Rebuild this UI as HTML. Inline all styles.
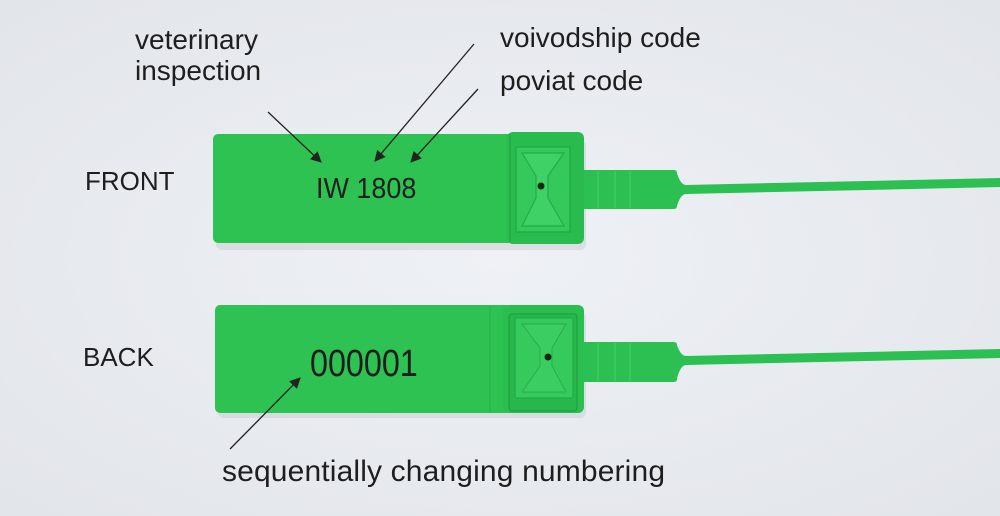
<!DOCTYPE html>
<html><head><meta charset="utf-8"><style>
html,body{margin:0;padding:0;background:#e9ecf0;}
svg{display:block}
text{font-family:"Liberation Sans",Arial,sans-serif;fill:#1e1e1e}
</style></head><body>
<svg width="1000" height="516" viewBox="0 0 1000 516" xmlns="http://www.w3.org/2000/svg">
<defs>
<radialGradient id="bg" cx="50%" cy="50%" r="70%"><stop offset="0" stop-color="#eef1f5"/><stop offset="1" stop-color="#e2e5ea"/></radialGradient>
<marker id="ah" viewBox="0 0 10 10" refX="9" refY="5" markerWidth="13" markerHeight="11" orient="auto" markerUnits="userSpaceOnUse"><path d="M0,0 L10,5 L0,10 z" fill="#222"/></marker>
</defs>
<rect width="1000" height="516" fill="url(#bg)"/>
<rect x="216" y="140" width="370" height="110" rx="6" fill="#c9ccd2" opacity="0.5"/>
<rect x="218" y="312" width="368" height="106" rx="6" fill="#c9ccd2" opacity="0.5"/>

<rect x="578" y="170" width="99" height="39" rx="3" fill="#2cbf51"/>
<g stroke="#44d068" stroke-width="1"><line x1="598" y1="171" x2="598" y2="208"/><line x1="615" y1="171" x2="615" y2="208"/><line x1="630" y1="171" x2="630" y2="208"/></g>
<path d="M676,170 Q680,185 686,185 L1000,178 L1000,187 L686,194 Q680,194 676,209 Z" fill="#2cbf51"/>
<rect x="213" y="134" width="300" height="109" rx="5" fill="#2ec252"/>
<rect x="507" y="132" width="77" height="112" rx="6" fill="#29bb4e"/>
<line x1="510" y1="134" x2="510" y2="242" stroke="#23a945" stroke-width="1.5"/>
<path d="M516,147 L570,147 L570,232 L516,232 Z" fill="#35c85a" stroke="#22ad46" stroke-width="1.5"/>
<path d="M522,153 L564,153 L548,176 L548,198 L564,226 L522,226 L536,198 L536,176 Z" fill="#3fd066" stroke="#22ad46" stroke-width="1.2"/>
<circle cx="541" cy="186" r="3.5" fill="#0d2a12"/>
<text x="316" y="198" font-size="29" transform="translate(316 198) scale(0.93 1) translate(-316 -198)">IW 1808</text>

<rect x="578" y="342" width="99" height="40" rx="3" fill="#2cbf51"/>
<g stroke="#44d068" stroke-width="1"><line x1="598" y1="343" x2="598" y2="381"/><line x1="615" y1="343" x2="615" y2="381"/><line x1="630" y1="343" x2="630" y2="381"/></g>
<path d="M676,342 Q680,356 686,356 L1000,349 L1000,358 L686,365 Q680,365 676,382 Z" fill="#2cbf51"/>
<rect x="215" y="305" width="296" height="108" rx="5" fill="#2ec252"/>
<line x1="490" y1="306" x2="490" y2="412" stroke="#29b64d" stroke-width="1.5"/>
<rect x="503" y="305" width="81" height="108" rx="6" fill="#2abe4f"/>
<rect x="509" y="314" width="68" height="97" rx="3" fill="#27b74c" stroke="#1f9f40" stroke-width="1.2"/>
<rect x="515" y="318" width="58" height="80" rx="2" fill="#36c95b" stroke="#22ad46" stroke-width="1.2"/>
<path d="M522,324 L566,324 L552,348 L552,366 L566,392 L522,392 L540,366 L540,348 Z" fill="#3ccd62" stroke="#25b049" stroke-width="1"/>
<circle cx="548" cy="357" r="3.5" fill="#0d2a12"/>
<text x="310" y="376" font-size="38" transform="translate(310 376) scale(0.85 1) translate(-310 -376)">000001</text>

<text x="135" y="49" font-size="28">veterinary</text>
<text x="135" y="80" font-size="28">inspection</text>
<text x="500" y="47" font-size="28">voivodship code</text>
<text x="500" y="90" font-size="28">poviat code</text>
<text x="85" y="190" font-size="26">FRONT</text>
<text x="83" y="366" font-size="26">BACK</text>
<text x="222" y="481" font-size="30" textLength="443">sequentially changing numbering</text>

<g stroke="#222" stroke-width="1.3" fill="none">
<line x1="268" y1="112" x2="321" y2="162" marker-end="url(#ah)"/>
<line x1="474" y1="44" x2="375" y2="161" marker-end="url(#ah)"/>
<line x1="478" y1="89" x2="411" y2="162" marker-end="url(#ah)"/>
<line x1="230" y1="449" x2="300" y2="378" marker-end="url(#ah)"/>
</g>
</svg>
</body></html>
